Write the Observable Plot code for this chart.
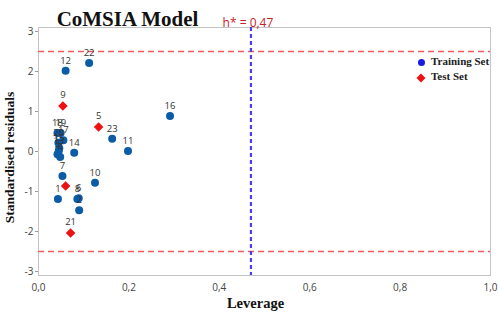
<!DOCTYPE html>
<html><head><meta charset="utf-8">
<script src="https://cdn.jsdelivr.net/npm/d3@7"></script>
<script src="https://cdn.jsdelivr.net/npm/@observablehq/plot@0.6"></script>
<style>
body{margin:0;background:#fff;}
#wrap{position:relative;width:498px;height:317px;}
.lg{position:absolute;font-family:"Liberation Serif",serif;font-weight:bold;font-size:11px;color:#222;}
</style>
</head><body><div id="wrap"></div>
<script>
// Training set
const trainIds = ["22","12","16","23","11","14","10","7","1","8","6","2","18","19","17","20","15","13","3","4"];
const trainLev = [0.112,0.060,0.291,0.163,0.198,0.079,0.125,0.053,0.043,0.086,0.089,0.090,0.042,0.049,0.055,0.044,0.046,0.045,0.042,0.048];
const trainRes = [2.21,2.02,0.89,0.32,0.01,-0.03,-0.78,-0.61,-1.19,-1.19,-1.17,-1.47,0.46,0.46,0.28,0.22,0.08,0.02,-0.07,-0.14];
// Test set
const testIds = ["9","5","","21"];
const testLev = [0.054,0.133,0.060,0.071];
const testRes = [1.14,0.61,-0.86,-2.04];
// thresholds
const resLimits = [2.5,-2.5];
const hStar = 0.47;
const xTicks = [0,0.2,0.4,0.6,0.8,1.0];
const yTicks = [-3,-2,-1,0,1,2,3];

const train = trainIds.map((id,i)=>({id, x:trainLev[i], y:trainRes[i]}));
const test = testIds.map((id,i)=>({id, x:testLev[i], y:testRes[i]}));
const sans = "'Open Sans', sans-serif";
const serif = "'Liberation Serif', serif";

const chart = Plot.plot({
  width:498, height:317,
  marginLeft:38, marginRight:8, marginTop:27, marginBottom:42,
  x:{domain:[0,1]}, y:{domain:[-3.1,3.1]},
  style:{fontFamily:sans, background:"#fff"},
  marks:[
    Plot.frame({stroke:"#c4c4c4"}),
    Plot.axisX({ticks:xTicks, tickFormat:d=>d.toFixed(1).replace(".",","), tickSize:0, tickPadding:8, label:null, fontSize:10, fill:"#444"}),
    Plot.axisY({ticks:yTicks, tickFormat:d=>String(d), tickSize:3, tickPadding:2, label:null, fontSize:10, fill:"#444", stroke:"#999"}),
    Plot.ruleY(resLimits, {stroke:"#f05a5a", strokeWidth:1.3, strokeDasharray:"6,4"}),
    Plot.ruleX([hStar], {stroke:"#4a3cf0", strokeWidth:2.2, strokeDasharray:"4,3"}),
    Plot.text([hStar], {x:d=>d, frameAnchor:"top", textAnchor:"middle", dy:-9, dx:-3, text:d=>"h* = "+String(d).replace(".",","), fill:"#c8202a", fontSize:12, fontFamily:sans}),
    Plot.dot(train, {x:"x", y:"y", r:4, fill:"#0b5ca6", stroke:"none"}),
    Plot.dot(test, {x:"x", y:"y", r:4.3, symbol:"diamond2", fill:"#ee1111", stroke:"none"}),
    Plot.text(train, {x:"x", y:"y", text:"id", dy:-10, fontSize:9.5, fill:"#333", fontFamily:sans}),
    Plot.text(test, {x:"x", y:"y", text:"id", dy:-11, fontSize:9.5, fill:"#333", fontFamily:sans}),
    Plot.text(["CoMSIA Model"], {frameAnchor:"top-left", textAnchor:"middle", dx:89, dy:-16, text:d=>d, fontSize:21, fontWeight:"bold", fontFamily:serif, fill:"#111"}),
    Plot.text(["Standardised residuals"], {frameAnchor:"left", textAnchor:"middle", dx:-29, dy:6, text:d=>d, rotate:-90, fontSize:13.5, fontWeight:"bold", fontFamily:serif, fill:"#111"}),
    Plot.text(["Leverage"], {frameAnchor:"bottom", textAnchor:"middle", dx:-9, dy:32, text:d=>d, fontSize:14.5, fontWeight:"bold", fontFamily:serif, fill:"#111"})
  ]
});
const wrap = document.getElementById("wrap");
wrap.appendChild(chart);
// legend
const lg = [["Training Set","#1a1ae6","circle",62],["Test Set","#ee1111","diamond",77.5]];
for (const [name,col,sym,y] of lg) {
  const s = document.createElement("div");
  s.style.cssText = `position:absolute;left:${sym==="circle"?418:416.5}px;top:${y-(sym==="circle"?3.5:4)}px;width:${sym==="circle"?7:8}px;height:${sym==="circle"?7:8}px;background:${col};border-radius:${sym==="circle"?"50%":"0"};${sym==="diamond"?"transform:rotate(45deg) scale(0.8);":""}`;
  wrap.appendChild(s);
  const t = document.createElement("div");
  t.className="lg"; t.textContent=name;
  t.style.left="431px"; t.style.top=(y-7.5)+"px";
  wrap.appendChild(t);
}
</script></body></html>
